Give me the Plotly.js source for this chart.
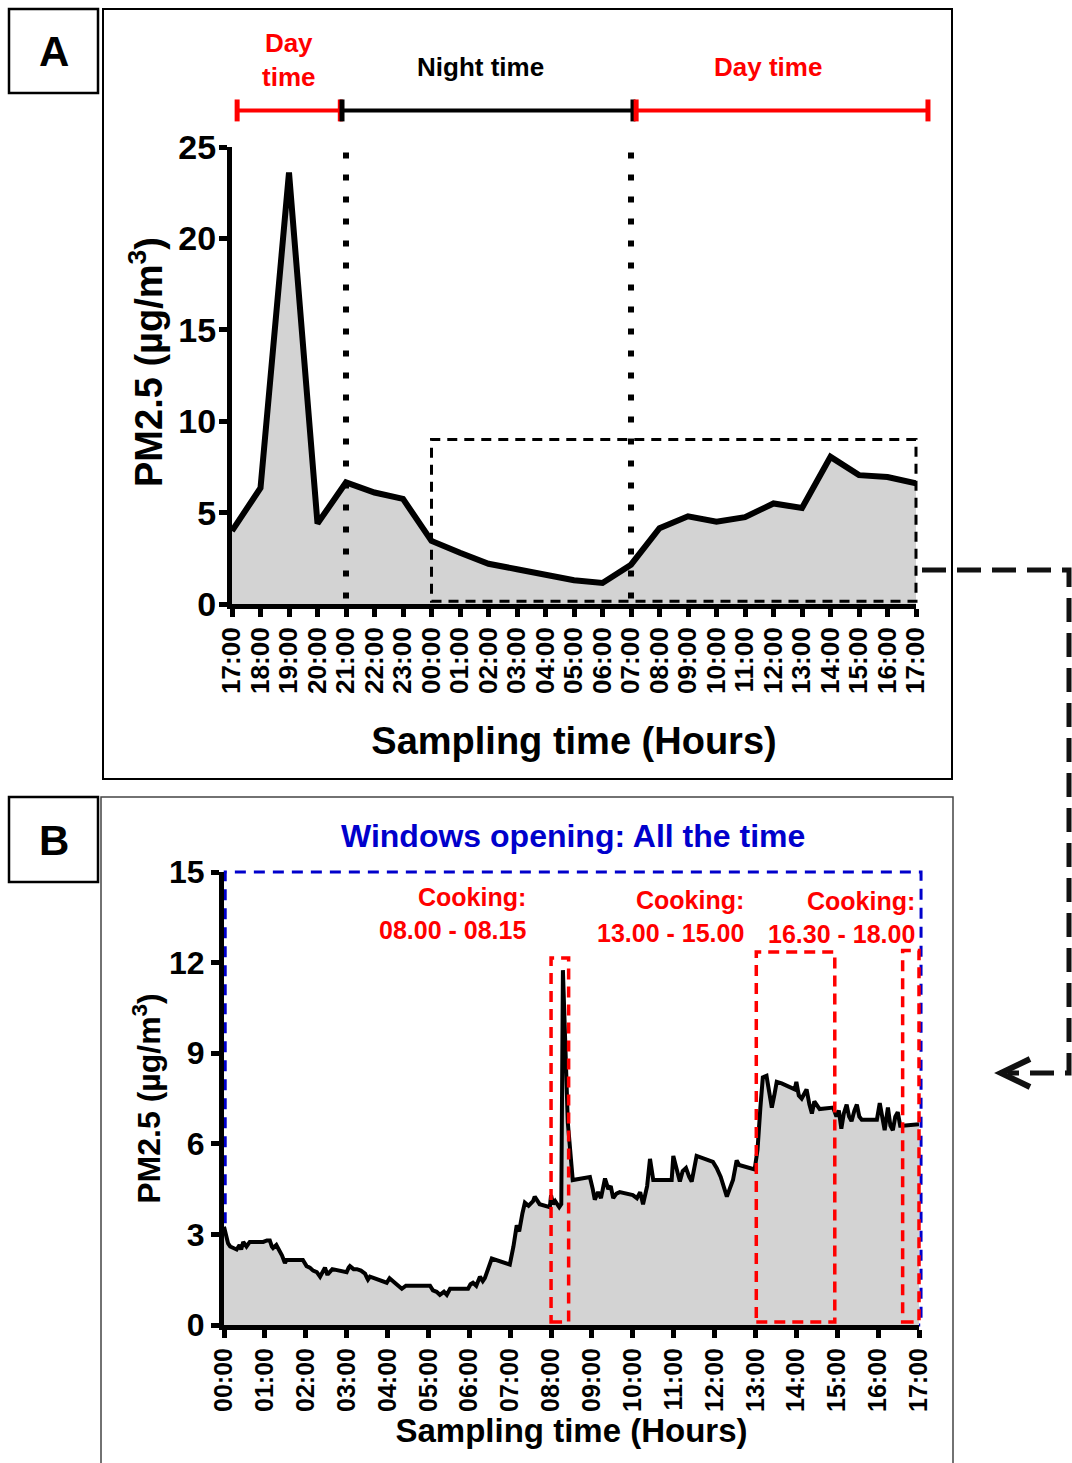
<!DOCTYPE html>
<html>
<head>
<meta charset="utf-8">
<script src="https://cdn.plot.ly/plotly-3.0.1.min.js"></script>
<style>
  html, body { margin: 0; padding: 0; background: #fff; }
  #chart { width: 1072px; height: 1463px; }
</style>
</head>
<body>
<div id="chart"></div>
<script>
// ---- Panel A: hourly PM2.5, 17:00 to 17:00 next day ----
const hoursA = ['17:00','18:00','19:00','20:00','21:00','22:00','23:00','00:00','01:00','02:00',
                '03:00','04:00','05:00','06:00','07:00','08:00','09:00','10:00','11:00','12:00',
                '13:00','14:00','15:00','16:00','17:00'];
const pmA = [4.0, 6.35, 23.6, 4.4, 6.65, 6.1, 5.75, 3.45, 2.8, 2.2, 1.9, 1.6, 1.3, 1.15, 2.15,
             4.15, 4.8, 4.5, 4.75, 5.5, 5.25, 8.05, 7.05, 6.95, 6.6];
const ticksA = [0, 5, 10, 15, 20, 25];
const yTitle = 'PM2.5 (µg/m<sup>3</sup>)';
const xTitle = 'Sampling time (Hours)';

// Day / night periods above panel A (hours after 17:00)
const periodStart = [0.18, 3.86, 14.18];
const periodEnd   = [3.80, 14.07, 24.42];
const periodColor = ['#ff0000', '#000000', '#ff0000'];
// Day/night boundaries (21:00 and 07:00)
const boundaries = [4, 14];
// Period enlarged in panel B: 00:00 to 17:00, up to 9 ug/m3
const zoomStart = 7, zoomEnd = 24, zoomTop = 9;

// ---- Panel B: continuous record, hours after midnight ----
const hoursB = ['00:00','01:00','02:00','03:00','04:00','05:00','06:00','07:00','08:00','09:00',
                '10:00','11:00','12:00','13:00','14:00','15:00','16:00','17:00'];
const timeB = [0.00,0.05,0.10,0.15,0.22,0.31,0.38,0.42,0.47,0.55,0.63,0.80,0.96,1.05,1.12,1.17,1.20,1.28,
  1.37,1.42,1.49,1.53,1.60,1.93,2.02,2.10,2.18,2.27,2.35,2.40,2.47,2.52,2.55,2.65,3.00,3.05,3.08,3.17,
  3.25,3.35,3.45,3.50,3.52,3.57,3.98,4.05,4.10,4.22,4.35,4.45,4.55,5.04,5.11,5.20,5.28,5.38,5.45,5.53,
  5.97,6.03,6.09,6.17,6.26,6.33,6.38,6.55,6.99,7.08,7.16,7.22,7.30,7.36,7.45,7.56,7.60,7.72,7.97,8.00,
  8.05,8.10,8.20,8.25,8.29,8.35,8.41,8.53,8.95,9.02,9.07,9.15,9.22,9.32,9.40,9.46,9.52,9.60,9.68,10.00,
  10.10,10.18,10.25,10.35,10.42,10.50,10.95,10.99,11.07,11.15,11.22,11.30,11.38,11.44,11.56,11.96,12.05,
  12.15,12.30,12.38,12.45,12.54,12.60,12.98,13.05,13.12,13.18,13.27,13.34,13.40,13.46,13.52,13.64,13.96,
  14.00,14.06,14.13,14.25,14.32,14.38,14.44,14.50,14.57,14.90,14.98,15.04,15.10,15.16,15.23,15.29,15.35,
  15.42,15.48,15.54,15.60,15.97,16.04,16.10,16.16,16.24,16.30,16.36,16.42,16.48,16.54,16.60,17.00];
const pmB = [3.25,2.9,2.7,2.6,2.55,2.5,2.65,2.5,2.75,2.6,2.75,2.75,2.75,2.8,2.8,2.6,2.55,2.65,
  2.45,2.3,2.05,2.15,2.15,2.15,1.95,1.9,1.8,1.75,1.6,1.75,1.9,1.7,1.7,1.85,1.75,1.9,1.95,1.85,
  1.85,1.8,1.7,1.55,1.5,1.6,1.4,1.55,1.5,1.35,1.2,1.3,1.3,1.3,1.15,1.1,1.0,1.1,1.0,1.2,
  1.2,1.35,1.4,1.3,1.6,1.45,1.55,2.2,2.0,2.6,3.3,3.1,3.7,4.05,3.95,4.1,4.25,4.0,3.9,4.3,
  4.0,4.1,3.9,4.0,11.75,9.0,6.7,4.8,4.9,4.5,4.15,4.4,4.2,4.85,4.5,4.6,4.2,4.35,4.4,4.3,
  4.2,4.4,4.0,4.6,5.5,4.8,4.8,5.6,5.1,4.75,5.1,5.2,4.9,4.75,5.6,5.4,5.2,
  4.9,4.25,4.6,4.8,5.45,5.3,5.15,5.8,7.2,8.2,8.25,7.6,7.2,7.6,8.05,8.0,7.8,
  8.05,7.6,7.5,7.8,7.3,7.0,7.4,7.3,7.15,7.2,6.9,7.1,6.5,7.0,7.3,6.9,6.75,
  7.1,7.3,6.9,6.8,6.8,7.35,6.9,6.45,7.2,6.6,6.45,6.9,7.05,6.6,6.6,6.65];
const ticksB = [0, 3, 6, 9, 12, 15];
const windowTop = 15, windowEnd = 17.05;

// Cooking periods marked in panel B
const cookStart = [8.0, 13.02, 16.6];
const cookEnd   = [8.43, 14.94, 17.0];
const cookTop   = [12.15, 12.35, 12.4];
const cookLabel = ['Cooking:<br>08.00 - 08.15', 'Cooking:<br>13.00 - 15.00', 'Cooking:<br>16.30 - 18.00'];

// ---- page geometry helpers (page pixels -> paper fractions) ----
const W = 1072, H = 1463;
const px = x => x / W;
const py = y => 1 - y / H;
const FONT = 'Liberation Sans, Arial, Helvetica, sans-serif';
const RED = '#ff0000', BLUE = '#0000cc';

const rangeA = [0, 24], rangeAy = [0, 25];
const rangeB = [0, 17], rangeBy = [0, 15];
const xdA = h => (h - rangeA[0]) / (rangeA[1] - rangeA[0]);
const ydA = v => (v - rangeAy[0]) / (rangeAy[1] - rangeAy[0]);
const xdB = h => (h - rangeB[0]) / (rangeB[1] - rangeB[0]);
const ydB = v => (v - rangeBy[0]) / (rangeBy[1] - rangeBy[0]);

const traces = [
  { x: hoursA.map((_, i) => i), y: pmA, type: 'scatter', mode: 'lines',
    line: { color: '#000', width: 6 }, fill: 'tozeroy', fillcolor: '#d3d3d3',
    xaxis: 'x', yaxis: 'y', hoverinfo: 'skip' },
  { x: timeB, y: pmB, type: 'scatter', mode: 'lines',
    line: { color: '#000', width: 4 }, fill: 'tozeroy', fillcolor: '#d3d3d3',
    xaxis: 'x2', yaxis: 'y2', hoverinfo: 'skip' }
];

const axisCommon = {
  showline: true, linecolor: '#000', linewidth: 5, ticks: 'outside', ticklen: 8, tickwidth: 5,
  tickcolor: '#000', showgrid: false, zeroline: false, fixedrange: true, automargin: false
};

const shapes = [];
// panel frames and letter boxes
shapes.push({ type: 'rect', xref: 'paper', yref: 'paper', x0: px(103), y0: py(9), x1: px(952), y1: py(779),
  line: { color: '#000', width: 2 } });
shapes.push({ type: 'rect', xref: 'paper', yref: 'paper', x0: px(9), y0: py(9), x1: px(98), y1: py(93),
  line: { color: '#000', width: 2.5 } });
shapes.push({ type: 'rect', xref: 'paper', yref: 'paper', x0: px(101), y0: py(797), x1: px(953), y1: py(1480),
  line: { color: '#444', width: 1.5 } });
shapes.push({ type: 'rect', xref: 'paper', yref: 'paper', x0: px(9), y0: py(797), x1: px(98), y1: py(882),
  line: { color: '#000', width: 2.5 } });

// day / night period bars with end caps
const barY = ydA(27.0), capLo = ydA(26.4), capHi = ydA(27.6);
periodStart.forEach((s, i) => {
  const e = periodEnd[i], c = periodColor[i];
  shapes.push({ type: 'line', xref: 'x domain', yref: 'y domain', x0: xdA(s), x1: xdA(e), y0: barY, y1: barY,
    line: { color: c, width: 4 } });
  [s, e].forEach(h => shapes.push({ type: 'line', xref: 'x domain', yref: 'y domain',
    x0: xdA(h), x1: xdA(h), y0: capLo, y1: capHi, line: { color: c, width: 5 } }));
});

// dotted day/night boundaries
boundaries.forEach(h => shapes.push({ type: 'line', xref: 'x', yref: 'y', x0: h, x1: h, y0: 0.3, y1: 25,
  line: { color: '#000', width: 6, dash: '6px,16px' } }));

// dashed box around the period shown in panel B
shapes.push({ type: 'rect', xref: 'x domain', yref: 'y domain', x0: xdA(zoomStart), x1: xdA(zoomEnd),
  y0: ydA(0.15), y1: ydA(zoomTop), line: { color: '#000', width: 3, dash: '10px,7px' } });

// windows-open box in panel B
shapes.push({ type: 'rect', xref: 'x2 domain', yref: 'y2 domain', x0: xdB(0.03), x1: xdB(windowEnd),
  y0: 0, y1: ydB(windowTop), layer: 'below', line: { color: BLUE, width: 3, dash: '11px,8px' } });

// cooking boxes
cookStart.forEach((s, i) => shapes.push({ type: 'rect', xref: 'x2 domain', yref: 'y2 domain',
  x0: xdB(s), x1: xdB(cookEnd[i]), y0: ydB(0.1), y1: ydB(cookTop[i]),
  line: { color: RED, width: 3.5, dash: '11px,7px' } }));

// connector from panel A to panel B
shapes.push({ type: 'path', xref: 'paper', yref: 'paper',
  path: `M${px(922)},${py(570)} L${px(1069)},${py(570)} L${px(1069)},${py(1073)} L${px(1008)},${py(1073)}`,
  line: { color: '#111', width: 5, dash: '24px,11px' } });
shapes.push({ type: 'path', xref: 'paper', yref: 'paper',
  path: `M${px(1030)},${py(1059)} L${px(1001)},${py(1073)} L${px(1030)},${py(1087)}`,
  line: { color: '#111', width: 6 } });

const bold = (size, color) => ({ family: FONT, size: size, color: color || '#000', weight: 'bold' });

const annotations = [
  { text: 'A', x: px(54), y: py(51), font: bold(42) },
  { text: 'B', x: px(54), y: py(840), font: bold(42) },
  { text: yTitle, x: px(146), y: py(362), textangle: -90, font: bold(38) },
  { text: 'Day<br>time', x: px(288), y: py(60), font: bold(26, RED) },
  { text: 'Night time', x: px(480), y: py(67), font: bold(26) },
  { text: 'Day time', x: px(768), y: py(67), font: bold(26, RED) },
  { text: 'Windows opening: All the time', x: px(573), y: py(836), font: bold(32, BLUE) },
  { text: cookLabel[0], x: px(528), y: py(914), xanchor: 'right', align: 'right', font: bold(25, RED) },
  { text: cookLabel[1], x: px(746), y: py(916), xanchor: 'right', align: 'right', font: bold(25, RED) },
  { text: cookLabel[2], x: px(917), y: py(917), xanchor: 'right', align: 'right', font: bold(25, RED) }
].map(a => Object.assign({ xref: 'paper', yref: 'paper', showarrow: false, xanchor: 'center', yanchor: 'middle' }, a));

const layout = {
  width: W, height: H, autosize: false,
  margin: { l: 0, r: 0, t: 0, b: 0, pad: 0 },
  paper_bgcolor: '#fff', plot_bgcolor: 'rgba(0,0,0,0)',
  showlegend: false,
  font: { family: FONT, color: '#000' },
  xaxis: Object.assign({}, axisCommon, {
    domain: [px(232), px(916)], range: rangeA, anchor: 'y',
    tickmode: 'array', tickvals: hoursA.map((_, i) => i), ticktext: hoursA, tickangle: -90,
    tickfont: bold(26), title: { text: xTitle, font: bold(38), standoff: 36 }
  }),
  yaxis: Object.assign({}, axisCommon, {
    domain: [py(604), py(147)], range: rangeAy, anchor: 'x',
    tickmode: 'array', tickvals: ticksA, tickfont: bold(34), ticklabelstandoff: -4
  }),
  xaxis2: Object.assign({}, axisCommon, {
    domain: [px(224), px(919)], range: rangeB, anchor: 'y2',
    tickmode: 'array', tickvals: hoursB.map((_, i) => i), ticktext: hoursB, tickangle: -90,
    tickfont: bold(25), title: { text: xTitle, font: bold(33), standoff: 8 }
  }),
  yaxis2: Object.assign({}, axisCommon, {
    domain: [py(1325), py(872)], range: rangeBy, anchor: 'x2',
    tickmode: 'array', tickvals: ticksB, tickfont: bold(32),
    title: { text: yTitle, font: bold(32), standoff: 0 }
  }),
  shapes: shapes,
  annotations: annotations
};

Plotly.newPlot('chart', traces, layout, { staticPlot: true, displayModeBar: false });
</script>
</body>
</html>
